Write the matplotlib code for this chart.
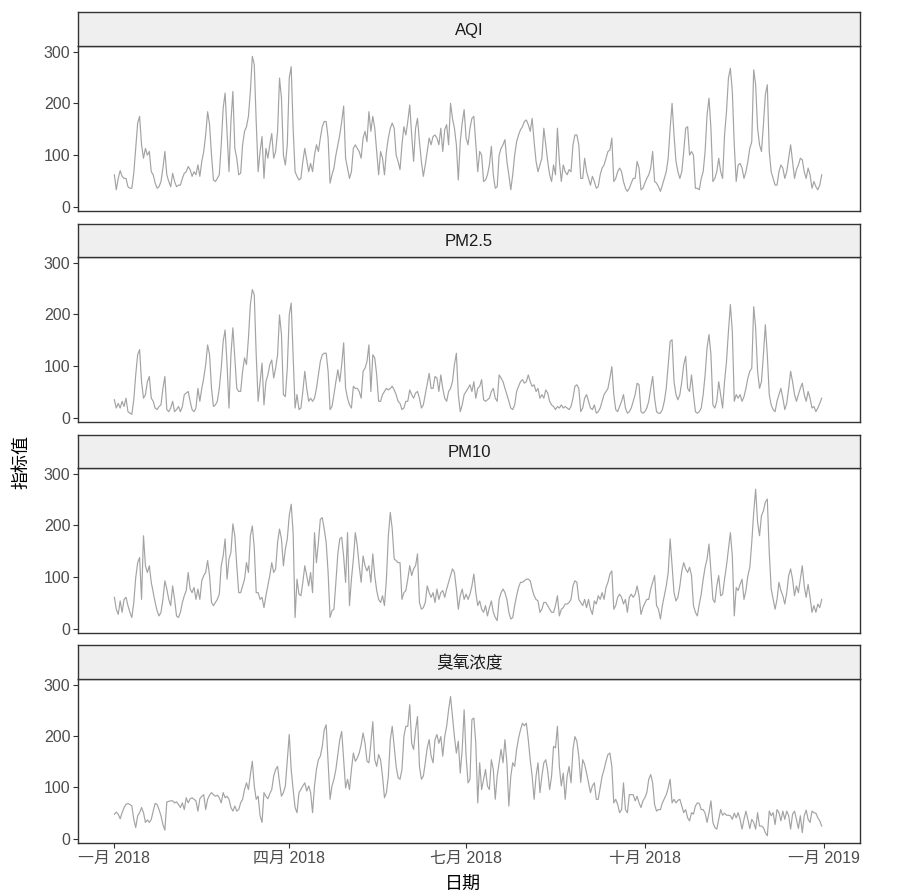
import numpy as np
import pandas as pd
import matplotlib
matplotlib.use('Agg')
import matplotlib.pyplot as plt

plt.rcParams['font.family'] = ['Liberation Sans', 'Noto Sans CJK SC', 'DejaVu Sans']

dates = pd.date_range('2018-01-01', periods=365, freq='D')

aqi = [62,33,55,70,59,55,55,39,36,36,
       65,113,162,175,120,94,113,100,107,68,
       62,46,36,39,49,75,107,62,49,39,
       65,49,39,42,42,55,65,68,78,72,
       59,68,62,81,59,88,107,139,184,159,
       100,52,49,55,62,120,191,220,146,68,
       165,223,113,94,62,65,120,146,155,175,
       223,291,275,165,68,107,136,55,113,94,
       120,142,94,107,146,249,210,100,81,120,
       249,271,152,68,59,52,55,88,113,91,
       68,84,68,100,120,107,133,155,165,165,
       133,46,62,75,100,120,139,165,195,94,
       75,55,68,113,120,113,107,94,133,146,
       126,184,146,175,152,107,62,107,94,62,
       107,133,152,162,152,100,88,72,120,155,
       139,165,197,139,88,152,171,126,88,59,
       81,107,133,120,136,139,133,120,152,107,
       149,159,120,200,171,152,120,52,126,162,
       188,133,120,152,171,175,120,68,107,100,
       49,52,62,81,117,62,36,39,100,113,
       120,130,88,62,33,62,100,126,139,149,
       155,165,168,159,146,171,126,88,68,81,
       94,152,120,88,62,49,81,62,152,88,
       49,81,68,62,72,68,120,139,139,120,
       55,55,94,68,55,42,59,49,36,39,
       62,75,81,94,107,110,133,49,55,68,
       75,68,49,36,30,36,46,55,55,88,
       75,33,36,46,55,62,75,107,49,46,
       39,30,42,55,68,94,152,200,139,88,
       68,55,68,107,152,155,100,107,100,36,
       36,33,55,68,107,178,210,152,49,55,
       68,94,68,55,139,184,249,268,223,120,
       49,81,84,75,55,68,88,113,126,265,
       236,152,120,107,159,217,236,107,68,55,
       42,42,68,81,75,55,68,94,120,88,
       55,72,81,94,91,68,55,75,62,36,
       49,39,33,42,62]

pm25 = [35,19,28,19,32,22,38,12,9,7,
        35,83,122,132,70,38,45,70,80,38,
        32,19,16,22,25,57,80,16,12,19,
        32,12,16,22,12,22,45,48,51,32,
        16,12,19,57,32,57,77,103,141,122,
        57,22,25,32,57,96,148,170,103,19,
        122,174,116,57,51,51,90,116,103,154,
        219,248,238,122,32,70,106,25,70,83,
        103,112,77,96,122,199,161,45,41,96,
        199,222,122,19,45,16,19,51,90,57,
        32,38,32,38,57,83,109,122,125,125,
        90,16,22,45,70,93,70,103,145,57,
        38,25,19,61,57,57,51,38,90,96,
        109,141,51,122,116,83,32,32,45,51,
        57,54,57,61,54,45,32,28,16,19,
        32,32,54,45,38,48,51,38,19,25,
        45,64,86,57,57,80,77,51,83,57,
        38,32,51,57,70,103,125,45,12,25,
        45,51,57,64,51,70,38,57,61,74,
        35,32,35,38,51,57,38,32,83,77,
        70,57,45,32,19,16,25,51,61,70,
        74,67,70,83,70,61,64,51,57,38,
        45,38,54,48,32,25,22,16,22,19,
        25,19,22,19,16,22,38,61,64,57,
        12,19,38,45,32,19,16,25,9,12,
        19,32,45,51,57,77,99,45,16,12,
        22,32,45,19,9,12,19,32,45,67,
        64,12,9,12,19,32,57,80,38,12,
        9,9,16,32,57,103,148,151,70,45,
        35,45,70,103,119,57,51,83,45,12,
        9,12,19,45,83,135,161,122,25,19,
        32,70,45,19,70,109,167,219,167,32,
        45,38,45,32,41,57,77,90,96,215,
        174,90,57,70,122,180,122,45,25,16,
        12,32,45,57,38,16,28,57,90,70,
        45,32,45,57,67,45,32,51,38,19,
        22,12,19,28,38]

pm10 = [61,38,28,54,32,57,61,45,32,22,
        51,99,128,138,57,180,122,109,122,90,
        70,51,35,25,32,57,93,77,57,45,
        83,57,25,22,32,51,64,74,109,77,
        70,80,57,77,57,93,103,109,132,103,
        51,45,51,57,67,122,141,174,96,135,
        148,203,180,122,70,70,83,96,128,109,
        180,199,157,70,70,57,61,41,64,83,
        103,128,109,116,167,193,174,122,154,174,
        219,241,186,22,96,67,64,90,122,103,
        83,109,70,186,128,167,212,215,193,167,
        109,22,35,38,90,145,174,177,140,90,
        186,45,96,135,186,161,122,90,141,122,
        112,122,90,145,103,74,57,51,64,45,
        96,180,225,193,135,132,128,128,57,70,
        74,96,122,103,116,122,145,51,38,41,
        51,83,70,61,70,51,77,57,70,74,
        61,77,90,103,116,109,77,38,64,77,
        57,67,57,67,83,106,70,45,54,38,
        32,45,25,41,54,32,22,16,57,70,
        77,70,57,32,19,22,45,64,80,90,
        90,93,96,96,93,77,64,57,54,32,
        38,51,51,45,38,32,32,45,64,25,
        38,41,48,48,51,57,83,93,90,57,
        51,45,57,41,57,38,28,54,48,64,
        57,70,57,80,90,106,112,38,45,61,
        67,61,48,57,32,61,67,61,67,83,
        64,28,41,50,57,57,77,90,103,45,
        38,19,45,64,83,109,174,122,70,54,
        61,83,112,128,116,109,119,103,45,32,
        25,48,67,96,119,135,164,109,57,51,
        83,103,64,67,96,122,154,186,141,25,
        80,74,86,96,57,74,103,119,167,225,
        270,206,180,219,228,245,251,148,77,57,
        38,57,90,74,64,48,70,103,116,96,
        64,83,70,96,122,83,61,86,61,32,
        45,32,48,41,57]

ozone = [48,52,48,39,51,61,67,69,67,64,
         38,22,45,51,61,51,32,37,32,38,
         54,69,67,57,45,28,17,72,73,74,
         74,70,72,67,61,70,57,80,70,78,
         80,77,74,54,78,83,86,57,77,85,
         90,86,83,85,80,70,90,80,83,77,
         61,54,64,54,57,70,77,96,109,96,
         125,151,103,77,83,45,32,90,83,78,
         88,96,122,135,141,109,83,90,103,154,
         203,135,96,61,51,90,96,103,109,93,
         103,90,51,103,135,154,161,180,212,222,
         148,77,103,116,135,164,193,209,154,99,
         116,96,135,167,151,157,167,183,206,186,
         151,148,186,228,154,141,164,154,122,80,
         90,122,193,219,180,141,119,116,135,199,
         219,219,261,186,174,212,238,141,116,122,
         148,177,193,161,148,193,203,186,199,161,
         199,219,251,277,238,199,167,190,128,174,
         251,161,109,116,232,235,186,70,148,96,
         116,135,103,96,154,135,77,122,148,174,
         148,193,148,64,122,148,141,174,196,212,
         225,220,225,193,154,122,77,122,148,90,
         122,148,154,132,96,122,180,177,219,141,
         103,128,77,122,141,109,174,199,190,161,
         110,154,145,128,109,90,103,109,77,77,
         99,122,135,151,164,167,141,70,77,67,
         51,57,109,57,51,86,86,86,74,83,
         70,61,74,80,90,116,125,109,67,54,
         57,57,70,78,86,99,116,70,77,70,
         75,77,64,51,57,41,35,51,48,64,
         70,69,57,57,50,32,51,74,32,22,
         19,38,57,46,50,46,46,45,38,50,
         41,51,38,19,38,54,38,20,38,32,
         19,51,25,25,22,12,6,54,45,51,
         28,57,51,35,54,38,54,45,19,48,
         54,38,20,45,12,45,56,38,32,54,
         51,50,41,35,25]

series = [aqi, pm25, pm10, ozone]
panel_titles = ['AQI', 'PM2.5', 'PM10', '臭氧浓度']
y_ticks = [0, 100, 200, 300]
x_tick_dates = ['2018-01-01', '2018-04-01', '2018-07-01', '2018-10-01', '2019-01-01']
x_tick_labels = ['一月 2018', '四月 2018', '七月 2018', '十月 2018', '一月 2019']

W, H = 917, 896
fig = plt.figure(figsize=(W / 100, H / 100), dpi=100)
fig.patch.set_facecolor('white')
left, right = 78, 860


def rect(top, bottom):
    return [left / W, 1 - bottom / H, (right - left) / W, (bottom - top) / H]


strips = [(12, 46), (224, 257), (435, 468), (645, 679)]
plots = [(46, 211), (257, 422), (468, 633), (679, 843)]

xmin = dates[0] - pd.Timedelta(days=18.7)
xmax = dates[-1] + pd.Timedelta(days=19.7)

for i, (vals, title) in enumerate(zip(series, panel_titles)):
    ax = fig.add_axes(rect(*plots[i]))
    ax.plot(dates, vals, color='#A3A3A3', lw=0.85)
    ax.set_xlim(xmin, xmax)
    ax.set_ylim(-8, 311)
    ax.set_yticks(y_ticks)
    ax.set_yticklabels([str(v) for v in y_ticks])
    ax.tick_params(axis='y', length=3.5, width=0.8, color='#333333',
                   labelsize=11.5, labelcolor='#4D4D4D', pad=2)
    if i == len(series) - 1:
        ax.set_xticks(pd.to_datetime(x_tick_dates))
        ax.set_xticklabels(x_tick_labels)
        ax.tick_params(axis='x', length=3.5, width=0.8, color='#333333',
                       labelsize=11.5, labelcolor='#4D4D4D', pad=2)
    else:
        ax.set_xticks([])
    for s in ax.spines.values():
        s.set_color('#333333')
        s.set_linewidth(1.0)

    sax = fig.add_axes(rect(*strips[i]))
    sax.set_facecolor('#EFEFEF')
    sax.set_xticks([])
    sax.set_yticks([])
    for s in sax.spines.values():
        s.set_color('#333333')
        s.set_linewidth(1.0)
    sax.text(0.5, 0.47, title, ha='center', va='center', fontsize=12,
             color='#1A1A1A', transform=sax.transAxes)

fig.text(463 / W, 1 - 885 / H, '日期', ha='center', va='center',
         fontsize=13, color='black')
fig.text(22 / W, 1 - 462 / H, '指标值', ha='center', va='center',
         fontsize=13, color='black', rotation=90)

fig.savefig('out.png', dpi=100)
